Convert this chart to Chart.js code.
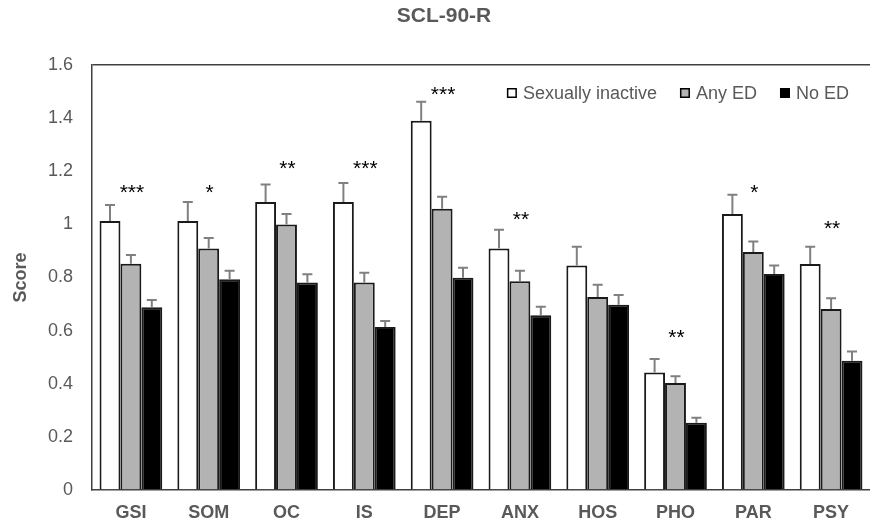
<!DOCTYPE html>
<html><head><meta charset="utf-8">
<script src="https://cdn.jsdelivr.net/npm/chart.js@4/dist/chart.umd.min.js"></script>
<style>html,body{margin:0;padding:0;background:#fff}#wrap{width:870px;height:523px;position:relative}</style>
</head><body><div id="wrap"><canvas id="c"></canvas></div>
<script>
const categories = ['GSI','SOM','OC','IS','DEP','ANX','HOS','PHO','PAR','PSY'];
const seriesNames = ['Sexually inactive','Any ED','No ED'];
const inactive   = [1.013, 1.013, 1.084, 1.084, 1.390, 0.909, 0.845, 0.442, 1.039, 0.851];
const inactiveSE = [0.060, 0.071, 0.066, 0.072, 0.072, 0.071, 0.071, 0.051, 0.073, 0.065];
const anyED      = [0.852, 0.909, 1.000, 0.781, 1.059, 0.786, 0.727, 0.403, 0.896, 0.681];
const anyEDSE    = [0.033, 0.040, 0.039, 0.037, 0.045, 0.039, 0.046, 0.025, 0.040, 0.041];
const noED       = [0.688, 0.793, 0.781, 0.614, 0.799, 0.658, 0.697, 0.253, 0.813, 0.487];
const noEDSE     = [0.027, 0.032, 0.031, 0.022, 0.038, 0.032, 0.037, 0.019, 0.032, 0.034];
const stars      = ['***','*','**','***','***','**','','**','*','**'];
const starLevel  = [1.142, 1.142, 1.232, 1.232, 1.509, 1.039, null, 0.596, 1.142, 1.004];
const yTicks     = [0, 0.2, 0.4, 0.6, 0.8, 1, 1.2, 1.4, 1.6];
const chartTitle = 'SCL-90-R';
const yTitle = 'Score';

const FONT = "'Liberation Sans', Arial, sans-serif";
const GREY = '#595959';
const AXIS = '#404040';

const overlay = {
  id: 'overlay',
  afterDatasetsDraw(chart) {
    const ctx = chart.ctx, ys = chart.scales.y, xs = chart.scales.x;
    ctx.save();
    // error bars (upper half only)
    chart.data.datasets.forEach((ds, di) => {
      const meta = chart.getDatasetMeta(di);
      meta.data.forEach((bar, i) => {
        const top = ys.getPixelForValue(ds.data[i] + ds.errors[i]);
        ctx.strokeStyle = '#808080';
        ctx.lineWidth = 2;
        ctx.beginPath();
        ctx.moveTo(bar.x, bar.y);
        ctx.lineTo(bar.x, top);
        ctx.moveTo(bar.x - 5, top);
        ctx.lineTo(bar.x + 5, top);
        ctx.stroke();
      });
    });
    // significance stars
    ctx.fillStyle = '#000';
    ctx.font = '21px ' + FONT;
    ctx.textAlign = 'center';
    ctx.textBaseline = 'alphabetic';
    stars.forEach((s, i) => {
      if (!s) return;
      const x = xs.getPixelForValue(i);
      const y = ys.getPixelForValue(starLevel[i]);
      ctx.fillText(s, x + 1, y + 12);
    });
    // legend (inside plot, top-right)
    ctx.font = '18px ' + FONT;
    ctx.textBaseline = 'middle';
    ctx.textAlign = 'left';
    const box = 10, gapText = 6, gapItem = 23;
    const widths = chart.data.datasets.map(d => box + gapText + ctx.measureText(d.label).width);
    const total = widths.reduce((a, b) => a + b, 0) + gapItem * (widths.length - 1);
    let lx = 849 - total;
    const ly = 93;
    chart.data.datasets.forEach((d, i) => {
      ctx.fillStyle = d.backgroundColor;
      ctx.fillRect(lx, ly - box / 2, box, box);
      ctx.strokeStyle = '#000';
      ctx.lineWidth = 1.5;
      ctx.strokeRect(lx + 0.75, ly - box / 2 + 0.75, box - 1.5, box - 1.5);
      ctx.fillStyle = GREY;
      ctx.fillText(d.label, lx + box + gapText, ly + 1);
      lx += widths[i] + gapItem;
    });
    // title
    ctx.font = 'bold 21px ' + FONT;
    ctx.fillStyle = GREY;
    ctx.textAlign = 'center';
    ctx.textBaseline = 'middle';
    ctx.fillText(chartTitle, 444, 16);
    ctx.restore();
  }
};

const mk = (label, data, errors, color) => ({
  label, data, errors,
  backgroundColor: color,
  borderColor: '#1a1a1a',
  borderWidth: 2,
  borderSkipped: 'bottom',
  categoryPercentage: 0.806,
  barPercentage: 1.0
});

new Chart(document.getElementById('c'), {
  type: 'bar',
  data: {
    labels: categories,
    datasets: [
      mk(seriesNames[0], inactive, inactiveSE, '#ffffff'),
      mk(seriesNames[1], anyED, anyEDSE, '#b3b3b3'),
      mk(seriesNames[2], noED, noEDSE, '#000000')
    ]
  },
  options: {
    responsive: true,
    maintainAspectRatio: false,
    devicePixelRatio: 1,
    animation: false,
    layout: { padding: { top: 65, right: -4, bottom: 0, left: 0 } },
    plugins: { legend: { display: false }, title: { display: false }, tooltip: { enabled: false } },
    scales: {
      x: {
        grid: { display: false, drawTicks: false },
        border: { display: true, color: AXIS, width: 1.5 },
        ticks: { color: GREY, font: { family: FONT, size: 18, weight: 'bold' }, padding: 12, maxRotation: 0 },
        afterFit(s) { s.height = 33; }
      },
      y: {
        min: 0, max: 1.6,
        afterBuildTicks(s) { s.ticks = yTicks.map(v => ({ value: v })); },
        grid: {
          drawTicks: false,
          color: c => (c.tick && Math.abs(c.tick.value - 1.6) < 1e-9) ? AXIS : 'rgba(0,0,0,0)',
          lineWidth: 1.5
        },
        border: { display: true, color: AXIS, width: 1.5 },
        ticks: {
          color: GREY, font: { family: FONT, size: 18 }, padding: 19,
          callback: v => String(+Number(v).toFixed(1))
        },
        title: { display: true, text: yTitle, color: GREY, font: { family: FONT, size: 18, weight: 'bold' }, padding: { top: 10, bottom: 0 } },
        afterFit(s) { s.width = 92; }
      }
    }
  },
  plugins: [overlay]
});
</script>
</body></html>
